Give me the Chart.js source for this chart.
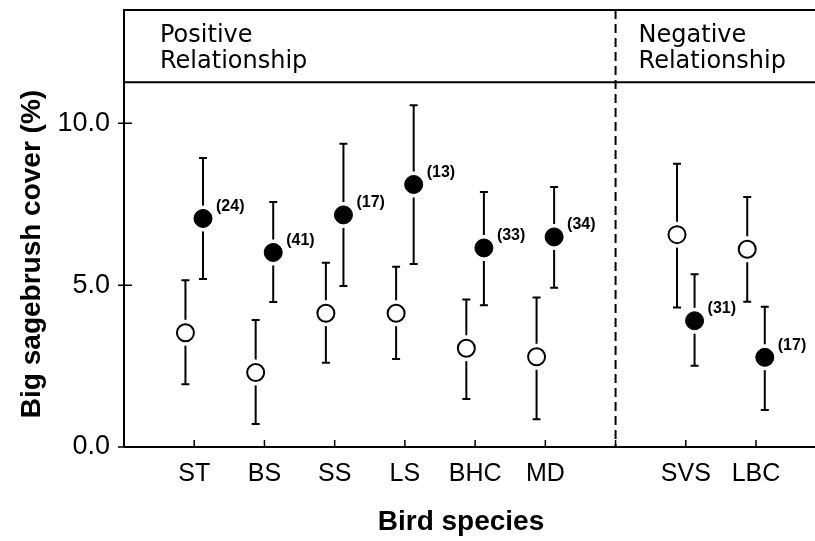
<!DOCTYPE html>
<html>
<head>
<meta charset="utf-8">
<script src="https://cdn.jsdelivr.net/npm/chart.js"></script>
<style>
  body { margin: 0; background: #fff; }
  canvas { display: block; }
</style>
</head>
<body>
<canvas id="myChart" width="815" height="541"></canvas>
<script>
// species groups (left panel: positive, right panel: negative)
var positiveSpecies = ['ST', 'BS', 'SS', 'LS', 'BHC', 'MD'];
var negativeSpecies = ['SVS', 'LBC'];

// open circles
var openMean = [3.53, 2.30, 4.13, 4.13, 3.05, 2.79, 6.56, 6.11];
var openLow  = [1.94, 0.71, 2.60, 2.72, 1.48, 0.86, 4.31, 4.49];
var openHigh = [5.15, 3.92, 5.69, 5.57, 4.56, 4.62, 8.75, 7.72];

// filled circles
var filledMean = [7.06, 6.01, 7.17, 8.11, 6.15, 6.49, 3.90, 2.77];
var filledLow  = [5.19, 4.48, 4.97, 5.65, 4.38, 4.92, 2.51, 1.14];
var filledHigh = [8.93, 7.57, 9.37, 10.56, 7.88, 8.03, 5.34, 4.33];

// sample sizes shown next to filled circles
var sampleSize = [24, 41, 17, 13, 33, 34, 31, 17];

var yTicks = [0, 5, 10];
var yMax = 13.5;
var headerValue = 11.27;

// slot positions: positive group 1..n, one empty slot as divider, then negative group
var species = positiveSpecies.concat(negativeSpecies);
var slots = species.map(function (s, i) {
  return i < positiveSpecies.length ? i + 1 : i + 2;
});
var dividerSlot = positiveSpecies.length + 1;
var xMax = slots[slots.length - 1] + 0.84;
var dodge = 0.125;

function points(means, shift) {
  return means.map(function (v, i) { return { x: slots[i] + shift, y: v }; });
}

function noPadding(scale) {
  scale.paddingTop = 0;
  scale.paddingBottom = 0;
  scale.paddingLeft = 0;
  scale.paddingRight = 0;
}

var errorBars = {
  id: 'errorBars',
  beforeDatasetsDraw: function (chart) {
    var ctx = chart.ctx, xs = chart.scales.x, ys = chart.scales.y, a = chart.chartArea;
    ctx.save();
    ctx.strokeStyle = '#000';

    // frame
    ctx.lineWidth = 2;
    ctx.beginPath();
    ctx.moveTo(a.left, a.bottom); ctx.lineTo(a.left, a.top);
    ctx.moveTo(a.left - 1, a.top); ctx.lineTo(a.right, a.top);
    ctx.moveTo(a.left, ys.getPixelForValue(headerValue)); ctx.lineTo(a.right, ys.getPixelForValue(headerValue));
    ctx.moveTo(a.left, a.bottom); ctx.lineTo(a.right, a.bottom);
    ctx.stroke();

    // tick marks
    ctx.lineWidth = 1.5;
    ctx.beginPath();
    yTicks.forEach(function (t) {
      var y = ys.getPixelForValue(t);
      ctx.moveTo(a.left - 6, y); ctx.lineTo(a.left + 8, y);
    });
    slots.concat([dividerSlot]).forEach(function (s) {
      var x = xs.getPixelForValue(s);
      ctx.moveTo(x, a.bottom); ctx.lineTo(x, a.bottom - 7);
    });
    ctx.stroke();

    // dashed divider
    ctx.lineWidth = 2;
    ctx.setLineDash([9, 5]);
    ctx.beginPath();
    var dx = xs.getPixelForValue(dividerSlot);
    ctx.moveTo(dx, a.top); ctx.lineTo(dx, a.bottom);
    ctx.stroke();
    ctx.setLineDash([]);

    // error bars
    function bars(means, lows, highs, shift) {
      means.forEach(function (m, i) {
        var x = xs.getPixelForValue(slots[i] + shift);
        var yl = ys.getPixelForValue(lows[i]);
        var yh = ys.getPixelForValue(highs[i]);
        ctx.lineWidth = 2;
        ctx.beginPath();
        ctx.moveTo(x, yl); ctx.lineTo(x, yh);
        ctx.moveTo(x - 4, yl); ctx.lineTo(x + 4, yl);
        ctx.moveTo(x - 4, yh); ctx.lineTo(x + 4, yh);
        ctx.stroke();
      });
      // white halo round each marker
      ctx.fillStyle = '#fff';
      means.forEach(function (m, i) {
        ctx.beginPath();
        ctx.arc(xs.getPixelForValue(slots[i] + shift), ys.getPixelForValue(m), 13, 0, Math.PI * 2);
        ctx.fill();
      });
    }
    bars(openMean, openLow, openHigh, -dodge);
    bars(filledMean, filledLow, filledHigh, dodge);
    ctx.restore();
  },
  afterDatasetsDraw: function (chart) {
    var ctx = chart.ctx, xs = chart.scales.x, ys = chart.scales.y, a = chart.chartArea;
    ctx.save();
    ctx.fillStyle = '#000';

    // sample sizes
    ctx.font = 'bold 16px "Liberation Sans", Arial, sans-serif';
    ctx.textAlign = 'left';
    ctx.textBaseline = 'middle';
    chart.getDatasetMeta(1).data.forEach(function (el, i) {
      ctx.fillText('(' + sampleSize[i] + ')', el.x + 13, el.y - 12);
    });

    // panel headings
    ctx.font = '24px "DejaVu Sans", sans-serif';
    ctx.textBaseline = 'alphabetic';
    var dx = xs.getPixelForValue(dividerSlot);
    ctx.fillText('Positive', a.left + 36, a.top + 32);
    ctx.fillText('Relationship', a.left + 36, a.top + 58);
    ctx.fillText('Negative', dx + 23, a.top + 32);
    ctx.fillText('Relationship', dx + 23, a.top + 58);

    // axis titles
    ctx.font = 'bold 28px "Liberation Sans", Arial, sans-serif';
    ctx.textAlign = 'center';
    ctx.fillText('Bird species', 461, 530);
    ctx.translate(40, 254);
    ctx.rotate(-Math.PI / 2);
    ctx.fillText('Big sagebrush cover (%)', 0, 0);
    ctx.restore();
  }
};

var ctx = document.getElementById('myChart').getContext('2d');
var myChart = new Chart(ctx, {
  type: 'scatter',
  data: {
    datasets: [
      {
        label: 'open',
        data: points(openMean, -dodge),
        pointRadius: 8.5,
        pointHoverRadius: 8.5,
        pointBorderWidth: 2,
        pointBorderColor: '#000',
        pointBackgroundColor: '#fff'
      },
      {
        label: 'filled',
        data: points(filledMean, dodge),
        pointRadius: 9,
        pointHoverRadius: 9,
        pointBorderWidth: 1,
        pointBorderColor: '#000',
        pointBackgroundColor: '#000'
      }
    ]
  },
  options: {
    responsive: false,
    animation: false,
    devicePixelRatio: 1,
    layout: { autoPadding: false, padding: { left: 0, right: 0, top: 10, bottom: 0 } },
    plugins: {
      legend: { display: false },
      tooltip: { enabled: false }
    },
    scales: {
      x: {
        type: 'linear',
        min: 0,
        max: xMax,
        grid: { display: false, drawTicks: false },
        border: { display: false },
        afterBuildTicks: function (scale) {
          scale.ticks = slots.map(function (s) { return { value: s }; });
        },
        afterFit: function (scale) { scale.height = 94; noPadding(scale); },
        ticks: {
          autoSkip: false,
          maxRotation: 0,
          padding: 12,
          color: '#000',
          font: { family: '"Liberation Sans Narrow", "Liberation Sans", Arial', size: 25 },
          callback: function (v) {
            var i = slots.indexOf(v);
            return i >= 0 ? species[i] : '';
          }
        }
      },
      y: {
        min: 0,
        max: yMax,
        grid: { display: false, drawTicks: false },
        border: { display: false },
        afterBuildTicks: function (scale) {
          scale.ticks = yTicks.map(function (t) { return { value: t }; });
        },
        afterFit: function (scale) { scale.width = 124; noPadding(scale); },
        ticks: {
          padding: 14,
          color: '#000',
          font: { family: '"Liberation Sans", Arial', size: 27 },
          callback: function (v) { return v.toFixed(1); }
        }
      }
    }
  },
  plugins: [errorBars]
});
</script>
</body>
</html>
